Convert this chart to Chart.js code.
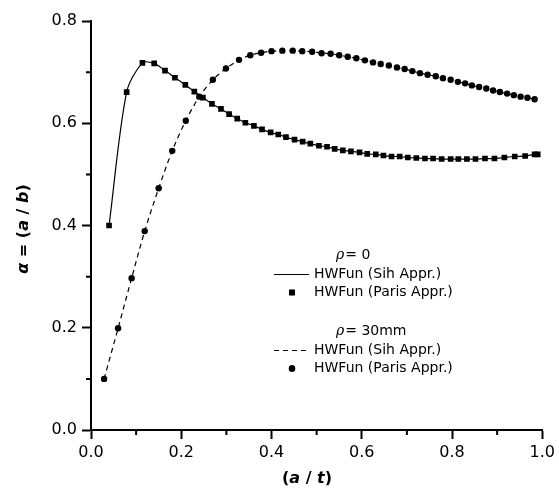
<!DOCTYPE html>
<html>
<head>
<meta charset="utf-8">
<script src="https://cdn.jsdelivr.net/npm/chart.js@4.4.1/dist/chart.umd.min.js"></script>
<style>
    html, body { margin: 0; padding: 0; background: #fff; }
    #wrap { width: 559px; height: 488px; }
</style>
</head>
<body>
<div id="wrap"><canvas id="alphaChart" width="559" height="488"></canvas></div>
<script>
// rho = 0 : a/t and alpha
const rho0X = [0.040, 0.079, 0.114, 0.140, 0.164, 0.186, 0.209, 0.229, 0.248, 0.268,
    0.288, 0.306, 0.324, 0.342, 0.361, 0.379, 0.398, 0.415, 0.432, 0.451,
    0.469, 0.486, 0.505, 0.523, 0.540, 0.558, 0.576, 0.595, 0.612, 0.631,
    0.648, 0.666, 0.684, 0.702, 0.721, 0.740, 0.758, 0.777, 0.797, 0.814,
    0.833, 0.852, 0.873, 0.894, 0.916, 0.939, 0.962, 0.983, 0.990];
const rho0Y = [0.400, 0.661, 0.718, 0.717, 0.703, 0.689, 0.675, 0.662, 0.650, 0.638,
    0.628, 0.618, 0.609, 0.601, 0.595, 0.588, 0.582, 0.578, 0.573, 0.568,
    0.564, 0.560, 0.556, 0.554, 0.550, 0.547, 0.545, 0.543, 0.540, 0.539,
    0.537, 0.535, 0.535, 0.533, 0.532, 0.531, 0.531, 0.530, 0.530, 0.530,
    0.530, 0.530, 0.531, 0.531, 0.533, 0.535, 0.536, 0.539, 0.539];

// rho = 30mm : a/t and alpha
const rho30X = [0.029, 0.060, 0.090, 0.119, 0.150, 0.180, 0.210, 0.240, 0.270, 0.299,
    0.328, 0.353, 0.377, 0.400, 0.424, 0.447, 0.468, 0.490, 0.511, 0.531,
    0.550, 0.569, 0.588, 0.607, 0.625, 0.642, 0.660, 0.678, 0.695, 0.712,
    0.729, 0.746, 0.764, 0.780, 0.797, 0.813, 0.829, 0.844, 0.860, 0.876,
    0.891, 0.906, 0.922, 0.937, 0.952, 0.967, 0.983];
const rho30Y = [0.100, 0.199, 0.297, 0.389, 0.473, 0.546, 0.605, 0.652, 0.685, 0.707,
    0.724, 0.733, 0.738, 0.741, 0.742, 0.742, 0.741, 0.740, 0.737, 0.736,
    0.733, 0.730, 0.727, 0.723, 0.719, 0.716, 0.713, 0.709, 0.706, 0.702,
    0.698, 0.695, 0.692, 0.688, 0.685, 0.681, 0.678, 0.674, 0.671, 0.668,
    0.664, 0.661, 0.658, 0.655, 0.652, 0.650, 0.647];

const xTicks = [0.0, 0.2, 0.4, 0.6, 0.8, 1.0];
const yTicks = [0.0, 0.2, 0.4, 0.6, 0.8];
const xMinor = [0.1, 0.3, 0.5, 0.7, 0.9];
const yMinor = [0.1, 0.3, 0.5, 0.7];

const groupHeaders = ['= 0', '= 30mm'];
const seriesNames = ['HWFun (Sih Appr.)', 'HWFun (Paris Appr.)'];

const FONT = "'DejaVu Sans', sans-serif";

function toPoints(xs, ys) {
    return xs.map((x, i) => ({ x: x, y: ys[i] }));
}

// draw a row of text pieces with their own fonts, centred on (cx, cy)
function drawRuns(ctx, runs, cx, cy) {
    let total = 0;
    runs.forEach(r => { ctx.font = r.font; total += ctx.measureText(r.text).width; });
    let x = cx - total / 2;
    runs.forEach(r => {
        ctx.font = r.font;
        ctx.fillText(r.text, x, cy);
        x += ctx.measureText(r.text).width;
    });
}

// Minor ticks and axis titles
const axisExtras = {
    id: 'axisExtras',
    afterDraw(chart) {
        const ctx = chart.ctx;
        const xs = chart.scales.x, ys = chart.scales.y;
        const area = chart.chartArea;
        ctx.save();
        ctx.strokeStyle = '#000';
        ctx.lineWidth = 2;
        ctx.beginPath();
        xMinor.forEach(v => {
            const px = xs.getPixelForValue(v);
            ctx.moveTo(px, area.bottom);
            ctx.lineTo(px, area.bottom + 5);
        });
        yMinor.forEach(v => {
            const py = ys.getPixelForValue(v);
            ctx.moveTo(area.left, py);
            ctx.lineTo(area.left - 5, py);
        });
        ctx.stroke();

        const b = 'bold 16px ' + FONT;
        const bi = 'italic bold 16px ' + FONT;
        ctx.fillStyle = '#000';
        ctx.textBaseline = 'middle';
        ctx.textAlign = 'left';
        drawRuns(ctx, [
            { text: '(', font: b }, { text: 'a', font: bi },
            { text: ' / ', font: b }, { text: 't', font: bi }, { text: ')', font: b }
        ], 307, 479);

        ctx.translate(24, 229);
        ctx.rotate(-Math.PI / 2);
        drawRuns(ctx, [
            { text: '\u03b1', font: bi }, { text: ' = (', font: b }, { text: 'a', font: bi },
            { text: ' / ', font: b }, { text: 'b', font: bi }, { text: ')', font: b }
        ], 0, 0);
        ctx.restore();
    }
};

// Grouped legend: rho header, line sample, marker sample
const groupLegend = {
    id: 'groupLegend',
    afterDraw(chart) {
        const ctx = chart.ctx;
        const sets = chart.data.datasets;
        const tops = [255, 331];
        ctx.save();
        ctx.fillStyle = '#000';
        ctx.strokeStyle = '#000';
        ctx.textBaseline = 'middle';
        ctx.textAlign = 'left';
        tops.forEach((top, g) => {
            ctx.font = "italic 14px 'DejaVu Serif', serif";
            ctx.fillText('\u03c1', 336, top);
            const w = ctx.measureText('\u03c1').width;
            ctx.font = '14px ' + FONT;
            ctx.fillText(groupHeaders[g], 336 + w + 1, top);

            const lineSet = sets[g * 2];
            const markSet = sets[g * 2 + 1];
            const rowLine = top + 19.5, rowMark = top + 37.5;

            ctx.lineWidth = lineSet.borderWidth;
            ctx.setLineDash(lineSet.borderDash || []);
            ctx.beginPath();
            ctx.moveTo(274, rowLine);
            ctx.lineTo(309, rowLine);
            ctx.stroke();
            ctx.setLineDash([]);
            ctx.fillText(seriesNames[0], 314, rowLine);

            Chart.helpers.drawPoint(ctx, {
                pointStyle: markSet.pointStyle,
                radius: markSet.pointRadius,
                borderWidth: 0,
                rotation: 0
            }, 292, rowMark);
            ctx.fill();
            ctx.fillText(seriesNames[1], 314, rowMark);
        });
        ctx.restore();
    }
};

const axisStyle = {
    grid: {
        display: true,
        drawOnChartArea: false,
        drawTicks: true,
        tickLength: 9,
        tickWidth: 2,
        tickColor: '#000'
    },
    border: { display: true, color: '#000', width: 2 },
    ticks: {
        color: '#000',
        font: { family: FONT, size: 16 },
        callback: v => Number(v).toFixed(1)
    }
};

new Chart(document.getElementById('alphaChart'), {
    type: 'scatter',
    data: {
        datasets: [{
            label: 'rho=0 Sih',
            data: toPoints(rho0X, rho0Y),
            showLine: true,
            borderColor: '#000',
            borderWidth: 1.2,
            pointRadius: 0,
            tension: 0.3
        }, {
            label: 'rho=0 Paris',
            data: toPoints(rho0X, rho0Y),
            showLine: false,
            pointStyle: 'rect',
            pointRadius: 4,
            pointBorderWidth: 0,
            backgroundColor: '#000',
            borderColor: '#000'
        }, {
            label: 'rho=30 Sih',
            data: toPoints(rho30X, rho30Y),
            showLine: true,
            borderColor: '#000',
            borderWidth: 1.2,
            borderDash: [5, 4],
            pointRadius: 0,
            tension: 0.3
        }, {
            label: 'rho=30 Paris',
            data: toPoints(rho30X, rho30Y),
            showLine: false,
            pointStyle: 'circle',
            pointRadius: 3.2,
            pointBorderWidth: 0,
            backgroundColor: '#000',
            borderColor: '#000'
        }]
    },
    options: {
        responsive: false,
        animation: false,
        events: [],
        layout: { padding: { left: 0, top: 21, right: 16, bottom: 0 } },
        plugins: {
            legend: { display: false },
            tooltip: { enabled: false }
        },
        scales: {
            x: {
                type: 'linear',
                min: 0,
                max: 1,
                afterBuildTicks: s => { s.ticks = xTicks.map(v => ({ value: v })); },
                afterFit: s => { s.height = 58; },
                ...axisStyle,
                ticks: { ...axisStyle.ticks, padding: 4, maxRotation: 0 }
            },
            y: {
                type: 'linear',
                min: 0,
                max: 0.8,
                afterBuildTicks: s => { s.ticks = yTicks.map(v => ({ value: v })); },
                afterFit: s => { s.width = 91; },
                ...axisStyle,
                ticks: { ...axisStyle.ticks, padding: 5 }
            }
        }
    },
    plugins: [axisExtras, groupLegend]
});
</script>
</body>
</html>
